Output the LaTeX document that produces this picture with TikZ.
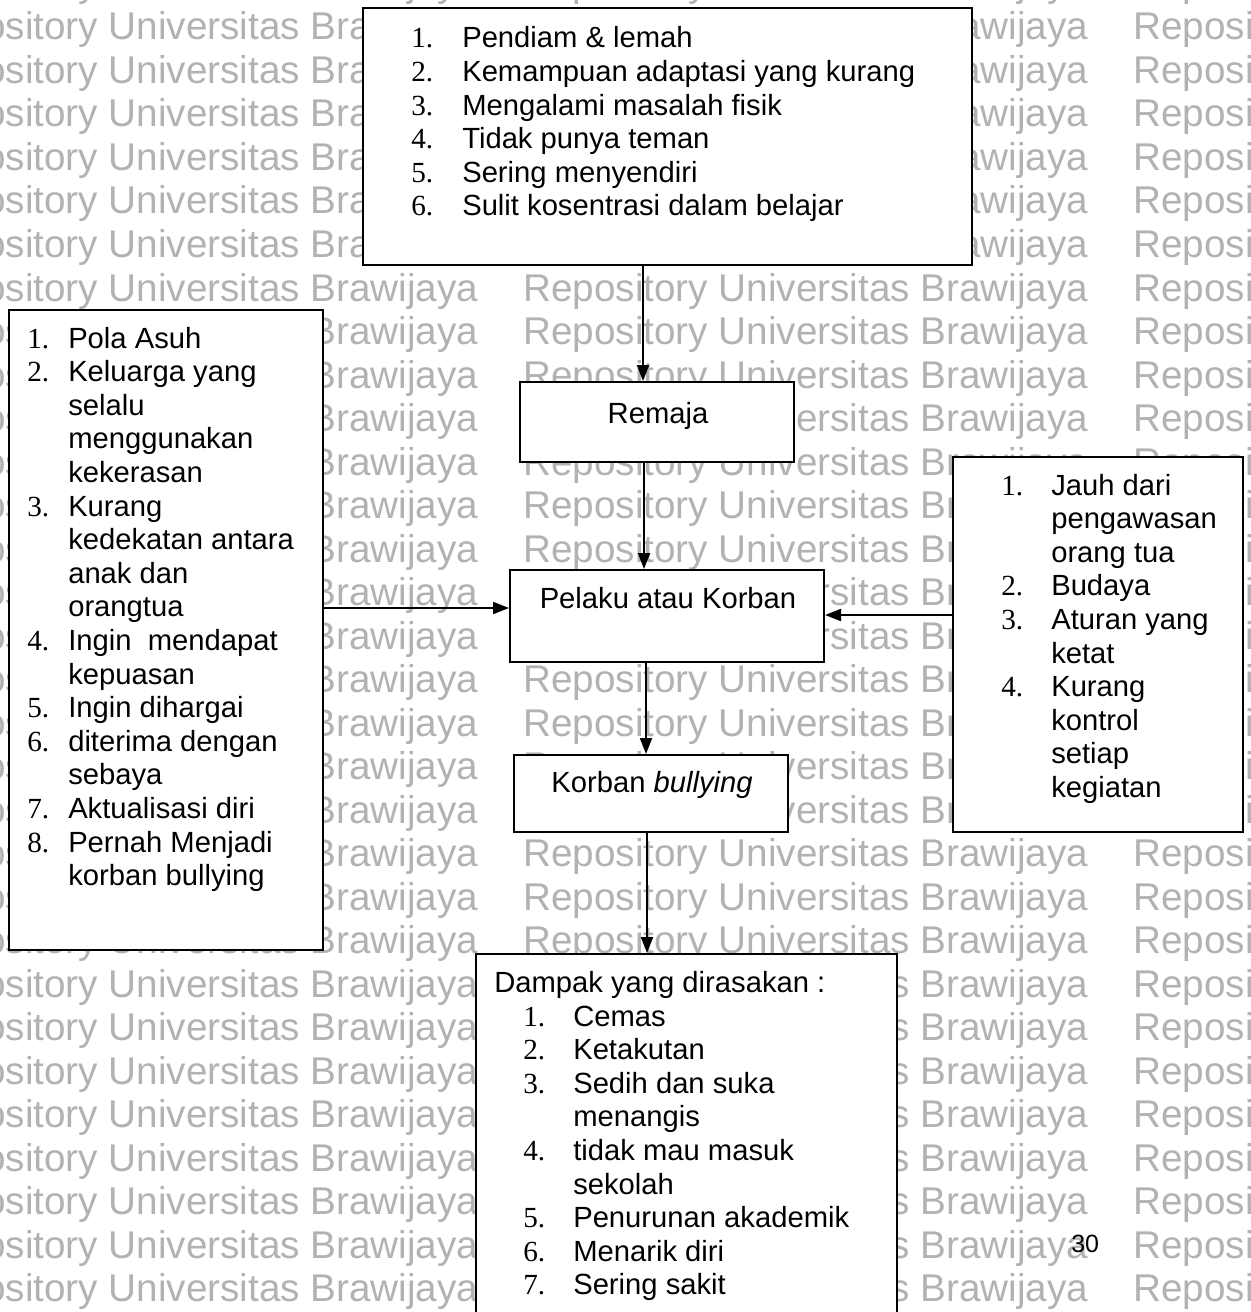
\documentclass[tikz,border=0pt]{standalone}
\usepackage{fontspec}
\usepackage{graphicx}
\setmainfont{Liberation Sans}
\newfontfamily\numfont{Liberation Serif}
\usetikzlibrary{arrows.meta}
\usetikzlibrary{calc}

\newlength\nrw
\newcommand{\nr}[1]{\makebox[\nrw][l]{\numfont #1}}
\newcommand{\lst}[2]{\parbox[t]{420pt}{\setlength\nrw{#1}\raggedright\fontsize{21.9}{25.2}\selectfont #2}}

\begin{document}
\begin{tikzpicture}[x=0.75pt,y=0.75pt,yscale=-1,xscale=1,
  box/.style={draw, fill=white, line width=1.5pt, inner sep=0pt},
  txt/.style={inner sep=0pt, font=\fontsize{21.9}{25.2}\selectfont},
  wm/.style={anchor=base west, inner sep=0pt, text=black!30, font=\fontsize{29}{29}\selectfont},
  arr/.style={line width=1.5pt, -{Triangle[length=12pt,width=9pt]}}]
\useasboundingbox (0,0) rectangle (1250,1312);

%Watermark
\foreach \k in {-1,...,29}{
  \foreach \c in {0,1,2}{
    \node[wm] (wm-\k-\c) at ({-87+610*\c},{40+43.5*\k}) {Repository Universitas Brawijaya};
  }
}
% Text Node
\node[anchor=base west, inner sep=0pt, font=\fontsize{18.75}{20}\selectfont] (hal) at (1071,1252) {30};

%Shape: Rectangle
\node[box, minimum width=456.75pt, minimum height=192.75pt] (ciri) at (667.5,136.5) {};
%Shape: Rectangle
\node[box, minimum width=235.5pt, minimum height=480pt] (keluarga) at (166,630) {};
%Shape: Rectangle
\node[box, minimum width=205.5pt, minimum height=60pt] (remaja) at (657,422) {};
%Shape: Rectangle
\node[box, minimum width=235.5pt, minimum height=69pt] (pelaku) at (667,616) {};
%Shape: Rectangle
\node[box, minimum width=205.5pt, minimum height=57.75pt] (korban) at (651,793.5) {};
%Shape: Rectangle
\node[box, minimum width=217.5pt, minimum height=281.25pt] (lingkungan) at (1098,644.5) {};
%Shape: Rectangle
\node[box, minimum width=315.75pt, minimum height=282pt] (dampak) at (686.5,1142) {};

% Text Node
\node[txt, anchor=base west] (ciritxt) at (411,48) {\lst{38.25pt}{%
\nr{1.}Pendiam \& lemah\\
\nr{2.}Kemampuan adaptasi yang kurang\\
\nr{3.}Mengalami masalah fisik\\
\nr{4.}Tidak punya teman\\
\nr{5.}Sering menyendiri\\
\nr{6.}Sulit kosentrasi dalam belajar}};
% Text Node
\node[txt, anchor=base west] (keluargatxt) at (27,348) {\lst{30.75pt}{%
\nr{1.}Pola Asuh\\
\nr{2.}Keluarga yang\\
\nr{}selalu\\
\nr{}menggunakan\\
\nr{}kekerasan\\
\nr{3.}Kurang\\
\nr{}kedekatan antara\\
\nr{}anak dan\\
\nr{}orangtua\\
\nr{4.}Ingin\ \ mendapat\\
\nr{}kepuasan\\
\nr{5.}Ingin dihargai\\
\nr{6.}diterima dengan\\
\nr{}sebaya\\
\nr{7.}Aktualisasi diri\\
\nr{8.}Pernah Menjadi\\
\nr{}korban bullying}};
% Text Node
\node[txt, anchor=base] (remajatxt) at (658,423) {Remaja};
% Text Node
\node[txt, anchor=base] (pelakutxt) at (668,608) {Pelaku atau Korban};
% Text Node
\node[txt, anchor=base] (korbantxt) at (652,792) {Korban \textit{bullying}};
% Text Node
\node[txt, anchor=base west] (lingkungantxt) at (1001,495) {\lst{37.5pt}{%
\nr{1.}Jauh dari\\
\nr{}pengawasan\\
\nr{}orang tua\\
\nr{2.}Budaya\\
\nr{3.}Aturan yang\\
\nr{}ketat\\
\nr{4.}Kurang\\
\nr{}kontrol\\
\nr{}setiap\\
\nr{}kegiatan}};
% Text Node
\node[txt, anchor=base west] (dampakjudul) at (494,992) {Dampak yang dirasakan :};
% Text Node
\node[txt, anchor=base west] (dampaktxt) at (523,1026) {\lst{37.5pt}{%
\nr{1.}Cemas\\
\nr{2.}Ketakutan\\
\nr{3.}Sedih dan suka\\
\nr{}menangis\\
\nr{4.}tidak mau masuk\\
\nr{}sekolah\\
\nr{5.}Penurunan akademik\\
\nr{6.}Menarik diri\\
\nr{7.}Sering sakit}};

%Straight Lines
\draw[arr] ($(ciri.south)+(-24.5,0)$) -- ($(remaja.north)+(-14,0)$);
%Straight Lines
\draw[arr] ($(remaja.south)+(-13,0)$) -- ($(pelaku.north)+(-23,0)$);
%Straight Lines
\draw[arr] ($(keluarga.east)+(0,-22)$) -- ($(pelaku.west)+(0,-8)$);
%Straight Lines
\draw[arr] ($(lingkungan.west)+(0,-29.5)$) -- ($(pelaku.east)+(0,-1)$);
%Straight Lines
\draw[arr] ($(pelaku.south)+(-21,0)$) -- ($(korban.north)+(-5,0)$);
%Straight Lines
\draw[arr] ($(korban.south)+(-4,0)$) -- ($(dampak.north)+(-39.5,0)$);
\end{tikzpicture}
\end{document}
